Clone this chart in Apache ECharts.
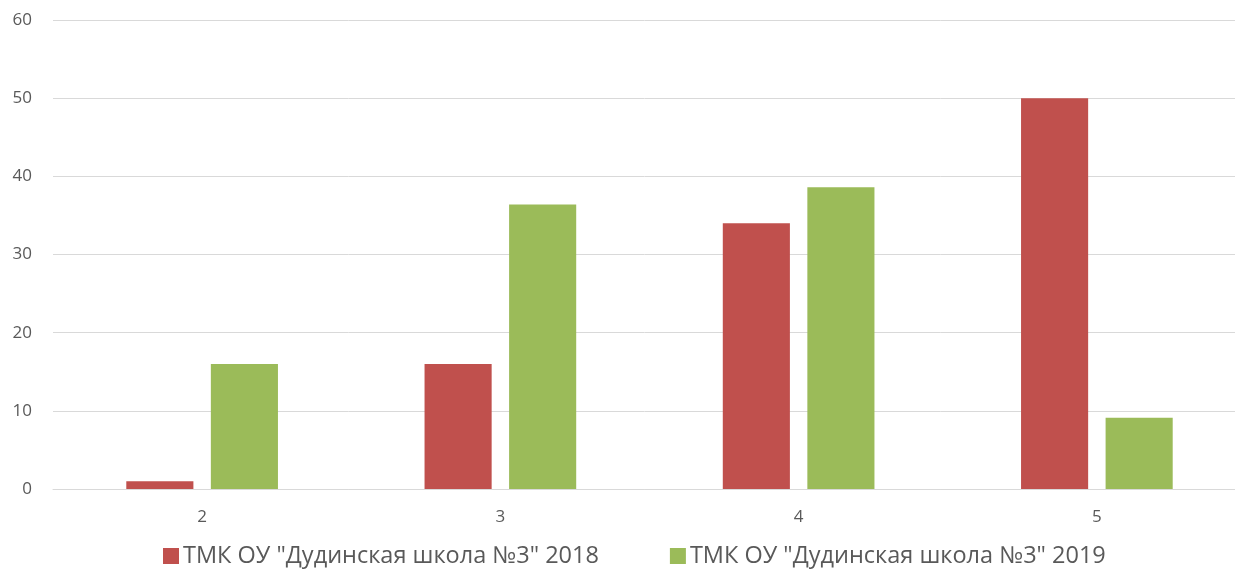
<!DOCTYPE html>
<html>
<head>
<meta charset="utf-8">
<script src="https://cdn.jsdelivr.net/npm/echarts@6/dist/echarts.min.js"></script>
<style>
html, body { margin: 0; padding: 0; background: #fff; }
#chart { width: 1235px; height: 570px; }
</style>
</head>
<body>
<div id="chart"></div>
<script>
var categories = ['2', '3', '4', '5'];
var seriesNames = ['ТМК ОУ "Дудинская школа №3" 2018', 'ТМК ОУ "Дудинская школа №3" 2019'];
var values2018 = [1, 16, 34, 50];
var values2019 = [16, 36.4, 38.6, 9.1];
var yTicks = [0, 10, 20, 30, 40, 50, 60];

var chart = echarts.init(document.getElementById('chart'));
var fontFamily = '"Open Sans", "Liberation Sans", sans-serif';

// plot area runs past the right edge: the picture is cropped there
chart.setOption({
    animation: false,
    color: ['#C0504D', '#9BBB59'],
    grid: { left: 53, width: 1193, top: 20, bottom: 81, outerBoundsMode: 'none', containLabel: false },
    legend: {
        top: 539,
        left: 158,
        itemWidth: 16,
        itemHeight: 16,
        itemGap: 71,
        icon: 'rect',
        textStyle: { color: '#595959', fontSize: 23.5, fontFamily: fontFamily, padding: [0, 0, 0, -1] },
        data: seriesNames
    },
    xAxis: {
        type: 'category',
        data: categories,
        axisLine: { lineStyle: { color: '#D9D9D9' } },
        axisTick: { show: false },
        axisLabel: { color: '#595959', fontSize: 17, fontFamily: fontFamily, margin: 20 }
    },
    yAxis: {
        type: 'value',
        min: yTicks[0],
        max: yTicks[yTicks.length - 1],
        interval: 10,
        axisLine: { show: false },
        axisTick: { show: false },
        splitLine: { lineStyle: { color: '#D9D9D9' } },
        axisLabel: { color: '#595959', fontSize: 17, fontFamily: fontFamily, margin: 21 }
    },
    series: [
        { name: seriesNames[0], type: 'bar', data: values2018, barWidth: '22.5%', barGap: '26%' },
        { name: seriesNames[1], type: 'bar', data: values2019, barWidth: '22.5%', barGap: '26%' }
    ]
});
</script>
</body>
</html>
